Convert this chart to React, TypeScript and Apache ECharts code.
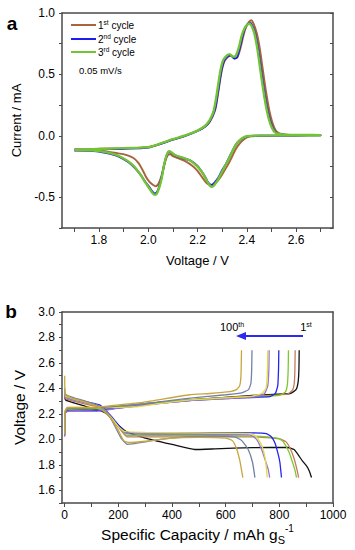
import React, { useEffect, useRef } from "react";
import * as echarts from "echarts";

const FONT = "Liberation Sans, Arial, sans-serif";

// ---------- Panel a: cyclic voltammetry (Voltage V, Current mA), loop order ----------
const cvNames = ["1st cycle", "2nd cycle", "3rd cycle"];
const cvColors = ["#a8643c", "#1c1cf0", "#72c434"];

const cv1st = [
  [1.70,-0.11],[1.75,-0.108],[1.80,-0.105],[1.90,-0.10],[2.00,-0.092],[2.05,-0.065],[2.10,-0.03],[2.15,0.0],[2.20,0.04],[2.23,0.075],[2.25,0.115],[2.27,0.2],[2.28,0.3],[2.29,0.43],[2.30,0.545],[2.31,0.61],[2.325,0.645],[2.335,0.655],[2.35,0.63],[2.362,0.64],[2.375,0.72],[2.388,0.83],[2.40,0.9],[2.41,0.93],[2.418,0.94],[2.426,0.92],[2.44,0.84],[2.452,0.72],[2.462,0.58],[2.472,0.44],[2.482,0.31],[2.492,0.2],[2.502,0.12],[2.512,0.065],[2.522,0.033],[2.54,0.015],[2.57,0.008],[2.62,0.006],[2.70,0.005],
  [2.65,0.004],[2.55,0.003],[2.45,0.0],[2.41,-0.005],[2.39,-0.025],[2.37,-0.065],[2.355,-0.11],[2.34,-0.17],[2.325,-0.23],[2.31,-0.28],[2.295,-0.33],[2.28,-0.37],[2.265,-0.395],[2.25,-0.40],[2.237,-0.385],[2.22,-0.34],[2.20,-0.285],[2.18,-0.245],[2.15,-0.205],[2.12,-0.18],[2.10,-0.165],[2.09,-0.15],[2.08,-0.155],[2.07,-0.2],[2.06,-0.28],[2.05,-0.35],[2.04,-0.395],[2.03,-0.41],[2.02,-0.40],[2.005,-0.375],[1.99,-0.33],[1.975,-0.27],[1.96,-0.22],[1.94,-0.18],[1.91,-0.155],[1.87,-0.14],[1.82,-0.125],[1.76,-0.115],[1.70,-0.11],
];
const cv2nd = [
  [1.70,-0.12],[1.75,-0.115],[1.80,-0.11],[1.90,-0.105],[2.00,-0.095],[2.05,-0.065],[2.10,-0.03],[2.15,0.0],[2.20,0.04],[2.23,0.075],[2.25,0.12],[2.27,0.21],[2.28,0.32],[2.29,0.45],[2.30,0.56],[2.31,0.62],[2.325,0.65],[2.335,0.655],[2.35,0.63],[2.36,0.64],[2.372,0.72],[2.385,0.83],[2.395,0.885],[2.405,0.91],[2.413,0.92],[2.42,0.905],[2.433,0.84],[2.445,0.72],[2.455,0.58],[2.465,0.44],[2.475,0.31],[2.485,0.2],[2.495,0.12],[2.505,0.065],[2.515,0.033],[2.53,0.015],[2.56,0.008],[2.62,0.006],[2.70,0.005],
  [2.65,0.004],[2.55,0.003],[2.45,0.001],[2.40,-0.005],[2.38,-0.025],[2.36,-0.06],[2.345,-0.11],[2.33,-0.17],[2.315,-0.23],[2.30,-0.28],[2.285,-0.34],[2.27,-0.38],[2.257,-0.40],[2.245,-0.385],[2.23,-0.33],[2.215,-0.285],[2.20,-0.245],[2.17,-0.20],[2.14,-0.18],[2.11,-0.16],[2.095,-0.14],[2.085,-0.13],[2.075,-0.16],[2.065,-0.23],[2.055,-0.33],[2.045,-0.41],[2.035,-0.46],[2.027,-0.47],[2.017,-0.455],[2.005,-0.42],[1.99,-0.38],[1.97,-0.32],[1.95,-0.27],[1.93,-0.23],[1.90,-0.19],[1.87,-0.16],[1.82,-0.135],[1.76,-0.122],[1.70,-0.12],
];
const cv3rd = [
  [1.70,-0.115],[1.75,-0.11],[1.80,-0.107],[1.90,-0.10],[2.00,-0.092],[2.05,-0.062],[2.10,-0.027],[2.15,0.003],[2.20,0.043],[2.23,0.08],[2.25,0.13],[2.265,0.2],[2.275,0.3],[2.285,0.43],[2.295,0.55],[2.305,0.62],[2.32,0.655],[2.33,0.665],[2.345,0.645],[2.355,0.65],[2.368,0.72],[2.38,0.82],[2.392,0.88],[2.402,0.905],[2.41,0.915],[2.418,0.9],[2.43,0.84],[2.442,0.72],[2.452,0.58],[2.462,0.44],[2.472,0.31],[2.482,0.2],[2.492,0.12],[2.502,0.065],[2.512,0.033],[2.53,0.015],[2.56,0.009],[2.62,0.007],[2.70,0.006],
  [2.65,0.005],[2.55,0.004],[2.45,0.002],[2.40,-0.003],[2.38,-0.022],[2.36,-0.06],[2.345,-0.11],[2.33,-0.175],[2.315,-0.235],[2.30,-0.29],[2.285,-0.35],[2.272,-0.39],[2.26,-0.415],[2.25,-0.405],[2.235,-0.355],[2.22,-0.3],[2.20,-0.25],[2.17,-0.2],[2.14,-0.178],[2.11,-0.158],[2.095,-0.135],[2.085,-0.125],[2.075,-0.155],[2.065,-0.23],[2.055,-0.34],[2.045,-0.42],[2.035,-0.47],[2.027,-0.48],[2.017,-0.465],[2.005,-0.43],[1.99,-0.385],[1.97,-0.32],[1.95,-0.265],[1.93,-0.225],[1.90,-0.185],[1.87,-0.155],[1.82,-0.13],[1.76,-0.118],[1.70,-0.115],
];
const cvData = [cv1st, cv2nd, cv3rd];

const cvXTicks = [1.7, 1.8, 1.9, 2.0, 2.1, 2.2, 2.3, 2.4, 2.5, 2.6, 2.7];
const cvXLabels = [1.8, 2.0, 2.2, 2.4, 2.6];

// ---------- Panel b: galvanostatic curves (capacity mAh/g, voltage V) ----------
const gcNames = ["1st", "10th", "20th", "40th", "60th", "80th", "90th", "100th"];
const gcColors = ["#111111", "#c47a5c", "#7cc82e", "#2424f0", "#9a74d6", "#e2dc44", "#7282a2", "#c8a63e"];

const dis1 = [[0,2.36],[3,2.31],[60,2.27],[150,2.21],[190,2.13],[230,2.06],[300,2.01],[400,1.96],[485,1.92],[560,1.925],[700,1.935],[832,1.936],[855,1.92],[870,1.88],[886,1.83],[902,1.79],[912,1.75],[920,1.70]];
const dis2 = [[0,2.35],[3,2.32],[30,2.30],[130,2.25],[170,2.17],[210,2.07],[232,2.02],[300,2.02],[500,2.02],[700,2.02],[800,2.005],[825,1.98],[840,1.93],[855,1.85],[866,1.76],[872,1.70]];
const dis3 = [[0,2.35],[3,2.33],[30,2.31],[130,2.26],[170,2.18],[210,2.08],[232,2.03],[300,2.03],[500,2.03],[700,2.025],[790,2.01],[810,1.99],[821,1.96],[836,1.90],[846,1.84],[858,1.76],[864,1.70]];
const dis4 = [[0,2.36],[3,2.34],[30,2.32],[130,2.27],[170,2.19],[210,2.09],[232,2.05],[300,2.05],[500,2.05],[700,2.05],[752,2.045],[770,2.02],[784,1.97],[796,1.88],[802,1.82],[808,1.70]];
const dis5 = [[0,2.36],[3,2.33],[30,2.31],[130,2.26],[170,2.18],[205,2.09],[230,2.045],[300,2.04],[500,2.04],[690,2.035],[715,2.0],[734,1.92],[750,1.82],[759,1.76],[764,1.70]];
const dis6 = [[0,2.37],[3,2.34],[30,2.32],[130,2.26],[170,2.18],[200,2.10],[225,2.06],[300,2.055],[500,2.05],[690,2.045],[715,2.02],[735,1.95],[748,1.84],[755,1.70]];
const dis7 = [[0,2.40],[3,2.35],[30,2.33],[130,2.26],[170,2.17],[210,2.01],[235,1.96],[300,1.98],[354,2.0],[450,2.02],[550,2.025],[634,2.02],[660,1.99],[684,1.92],[700,1.82],[709,1.70]];
const dis8 = [[0,2.50],[2,2.36],[20,2.33],[80,2.29],[130,2.25],[170,2.17],[200,2.07],[220,1.99],[240,1.975],[300,1.985],[400,2.01],[500,2.015],[600,2.01],[625,1.99],[640,1.93],[652,1.84],[659,1.76],[664,1.70]];
const dischargeData = [dis1, dis2, dis3, dis4, dis5, dis6, dis7, dis8];

const chg1 = [[0,2.05],[1,2.2],[10,2.23],[120,2.24],[200,2.255],[300,2.28],[466,2.31],[600,2.33],[700,2.345],[840,2.36],[862,2.39],[870,2.45],[873,2.55],[874,2.70]];
const chg2 = [[0,2.04],[1,2.21],[10,2.24],[120,2.245],[200,2.26],[300,2.28],[466,2.31],[600,2.33],[700,2.34],[830,2.355],[850,2.39],[856,2.45],[858,2.55],[859,2.70]];
const chg3 = [[0,2.04],[1,2.21],[10,2.235],[120,2.24],[200,2.255],[300,2.28],[466,2.31],[600,2.325],[700,2.335],[800,2.345],[822,2.37],[830,2.43],[833,2.55],[834,2.70]];
const chg4 = [[0,2.03],[1,2.2],[10,2.22],[120,2.225],[200,2.245],[300,2.27],[466,2.305],[600,2.32],[765,2.335],[785,2.36],[794,2.42],[797,2.55],[798,2.70]];
const chg5 = [[0,2.02],[1,2.2],[10,2.22],[120,2.22],[200,2.245],[300,2.27],[466,2.305],[600,2.32],[720,2.335],[745,2.36],[757,2.42],[761,2.55],[762,2.70]];
const chg6 = [[0,2.05],[1,2.22],[10,2.25],[130,2.25],[260,2.255],[350,2.28],[466,2.31],[600,2.325],[700,2.34],[735,2.36],[750,2.40],[755,2.5],[757,2.70]];
const chg7 = [[0,2.03],[1,2.2],[10,2.24],[100,2.245],[200,2.26],[300,2.28],[450,2.32],[600,2.35],[660,2.365],[685,2.39],[694,2.44],[697,2.55],[698,2.70]];
const chg8 = [[0,2.04],[1,2.22],[10,2.25],[100,2.25],[200,2.27],[292,2.29],[466,2.35],[540,2.36],[616,2.375],[640,2.39],[652,2.42],[657,2.5],[659,2.70]];
const chargeData = [chg1, chg2, chg3, chg4, chg5, chg6, chg7, chg8];

const gcXTicks = [0, 100, 200, 300, 400, 500, 600, 700, 800, 900, 1000];
const gcXLabels = [0, 200, 400, 600, 800, 1000];

const AXIS_COLOR = "#4a4a4a";

function buildOption() {
  const axisLine = { show: true, onZero: false, lineStyle: { color: AXIS_COLOR, width: 1.5 } };
  const labelStyle = { color: "#000", fontFamily: FONT, fontSize: 12 };
  const half = (v: number) => (Math.abs(v * 2 - Math.round(v * 2)) < 1e-6 ? v.toFixed(1) : "");
  const even = (v: number) => (Math.round(v * 10) % 2 === 0 ? v.toFixed(1) : "");

  const series: any[] = [];
  cvData.forEach((d, i) => {
    series.push({
      name: cvNames[i], type: "line", xAxisIndex: 0, yAxisIndex: 0, data: d,
      showSymbol: false, symbol: "none", smooth: 0.3,
      lineStyle: { color: cvColors[i], width: i === 2 ? 2.4 : 2 }, z: 3 + i,
    });
  });
  dischargeData.forEach((d, i) => {
    series.push({
      name: gcNames[i] + " discharge", type: "line", xAxisIndex: 2, yAxisIndex: 2, data: d,
      showSymbol: false, symbol: "none", smooth: 0.15,
      lineStyle: { color: gcColors[i], width: 1.3 }, z: 3 + i,
    });
  });
  chargeData.forEach((d, i) => {
    series.push({
      name: gcNames[i] + " charge", type: "line", xAxisIndex: 2, yAxisIndex: 2, data: d,
      showSymbol: false, symbol: "none", smooth: 0.15,
      lineStyle: { color: gcColors[i], width: 1.3 }, z: 3 + i,
    });
  });

  const sup = (size: number) => ({ fontSize: size, fontFamily: FONT, color: "#000", verticalAlign: "top", lineHeight: 12 });
  const norm = (size: number) => ({ fontSize: size, fontFamily: FONT, color: "#000", lineHeight: 12 });

  const graphic: any[] = [
    { type: "text", x: 12, y: 23, style: { text: "a", font: `bold 19px ${FONT}`, fill: "#000", align: "center", verticalAlign: "middle" } },
    { type: "text", x: 11, y: 311, style: { text: "b", font: `bold 19px ${FONT}`, fill: "#000", align: "center", verticalAlign: "middle" } },
  ];
  const legendTexts = ["{n|1}{s|st}{n| cycle}", "{n|2}{s|nd}{n| cycle}", "{n|3}{s|rd}{n| cycle}"];
  const legendY = [25, 39, 52];
  legendY.forEach((y, i) => {
    graphic.push({ type: "line", shape: { x1: 71, y1: y, x2: 96, y2: y }, style: { stroke: cvColors[i], lineWidth: 2 } });
    graphic.push({
      type: "text", x: 98, y: y,
      style: { text: legendTexts[i], rich: { n: norm(10), s: sup(6.5) }, verticalAlign: "middle", align: "left" },
    });
  });
  graphic.push({ type: "text", x: 79, y: 70, style: { text: "0.05 mV/s", fontSize: 9.5, fontFamily: FONT, fill: "#000", verticalAlign: "middle" } });
  graphic.push({
    type: "text", x: 232, y: 327,
    style: { text: "{n|100}{s|th}", rich: { n: norm(11), s: sup(7) }, align: "center", verticalAlign: "middle" },
  });
  graphic.push({
    type: "text", x: 306, y: 327,
    style: { text: "{n|1}{s|st}", rich: { n: norm(11), s: sup(7) }, align: "center", verticalAlign: "middle" },
  });
  graphic.push({ type: "line", shape: { x1: 303, y1: 336, x2: 243, y2: 336 }, style: { stroke: "#2a2af0", lineWidth: 2 } });
  graphic.push({ type: "polygon", shape: { points: [[236, 336], [246, 332], [246, 340]] }, style: { fill: "#2a2af0" } });

  return {
    animation: false,
    backgroundColor: "#fff",
    textStyle: { fontFamily: FONT },
    grid: [
      { left: 62, top: 13, width: 271, height: 215 },
      { left: 62, top: 312, width: 271, height: 191 },
    ],
    xAxis: [
      {
        type: "value", gridIndex: 0, min: 1.65, max: 2.75, position: "bottom",
        axisLine, splitLine: { show: false },
        axisTick: { show: true, customValues: cvXTicks, length: 4, lineStyle: { color: AXIS_COLOR, width: 1 } },
        axisLabel: { ...labelStyle, customValues: cvXLabels, formatter: (v: number) => v.toFixed(1), margin: 6 },
        name: "Voltage / V", nameLocation: "middle", nameGap: 26,
        nameTextStyle: { color: "#000", fontFamily: FONT, fontSize: 13 },
      },
      {
        type: "value", gridIndex: 0, min: 1.65, max: 2.75, position: "top",
        axisLine, axisTick: { show: false }, axisLabel: { show: false }, splitLine: { show: false },
      },
      {
        type: "value", gridIndex: 1, min: -10, max: 1000, position: "bottom",
        axisLine, splitLine: { show: false },
        axisTick: { show: true, customValues: gcXTicks, length: 4, lineStyle: { color: AXIS_COLOR, width: 1 } },
        axisLabel: { ...labelStyle, customValues: gcXLabels, formatter: (v: number) => String(Math.round(v)), margin: 6 },
        name: "Specific Capacity / mAh g{sub|S}{sup|-1}", nameLocation: "middle", nameGap: 20,
        nameTextStyle: {
          color: "#000", fontFamily: FONT, fontSize: 15.5,
          rich: {
            sub: { fontSize: 11, fontFamily: FONT, color: "#000", verticalAlign: "bottom", lineHeight: 22, padding: [6, 0, 0, 0] },
            sup: { fontSize: 10, fontFamily: FONT, color: "#000", verticalAlign: "top", lineHeight: 22 },
          },
        },
      },
      {
        type: "value", gridIndex: 1, min: -10, max: 1000, position: "top",
        axisLine, axisTick: { show: false }, axisLabel: { show: false }, splitLine: { show: false },
      },
    ],
    yAxis: [
      {
        type: "value", gridIndex: 0, min: -0.75, max: 1.0, interval: 0.25, position: "left",
        axisLine, splitLine: { show: false },
        axisTick: { show: true, length: 3, lineStyle: { color: AXIS_COLOR, width: 1 } },
        axisLabel: { ...labelStyle, formatter: half, margin: 7 },
        name: "Current / mA", nameLocation: "middle", nameGap: 37,
        nameTextStyle: { color: "#000", fontFamily: FONT, fontSize: 13 },
      },
      {
        type: "value", gridIndex: 0, min: -0.75, max: 1.0, interval: 0.25, position: "right",
        axisLine, splitLine: { show: false },
        axisTick: { show: true, inside: true, length: 3, lineStyle: { color: AXIS_COLOR, width: 1 } },
        axisLabel: { show: false },
      },
      {
        type: "value", gridIndex: 1, min: 1.5, max: 3.0, interval: 0.1, position: "left",
        axisLine, splitLine: { show: false },
        axisTick: { show: true, length: 3, lineStyle: { color: AXIS_COLOR, width: 1 } },
        axisLabel: { ...labelStyle, formatter: even, margin: 7 },
        name: "Voltage / V", nameLocation: "middle", nameGap: 33,
        nameTextStyle: { color: "#000", fontFamily: FONT, fontSize: 15.5 },
      },
      {
        type: "value", gridIndex: 1, min: 1.5, max: 3.0, interval: 0.1, position: "right",
        axisLine, splitLine: { show: false }, axisTick: { show: false }, axisLabel: { show: false },
      },
    ],
    series,
    graphic,
  };
}

export default function App() {
  const ref = useRef<HTMLDivElement>(null);
  useEffect(() => {
    if (!ref.current) return;
    const chart = echarts.init(ref.current, null, { renderer: "svg" });
    chart.setOption(buildOption() as any);
    return () => chart.dispose();
  }, []);
  return (
    <div
      ref={ref}
      style={{ position: "fixed", left: 0, top: 0, width: 355, height: 550, background: "#fff" }}
    />
  );
}
